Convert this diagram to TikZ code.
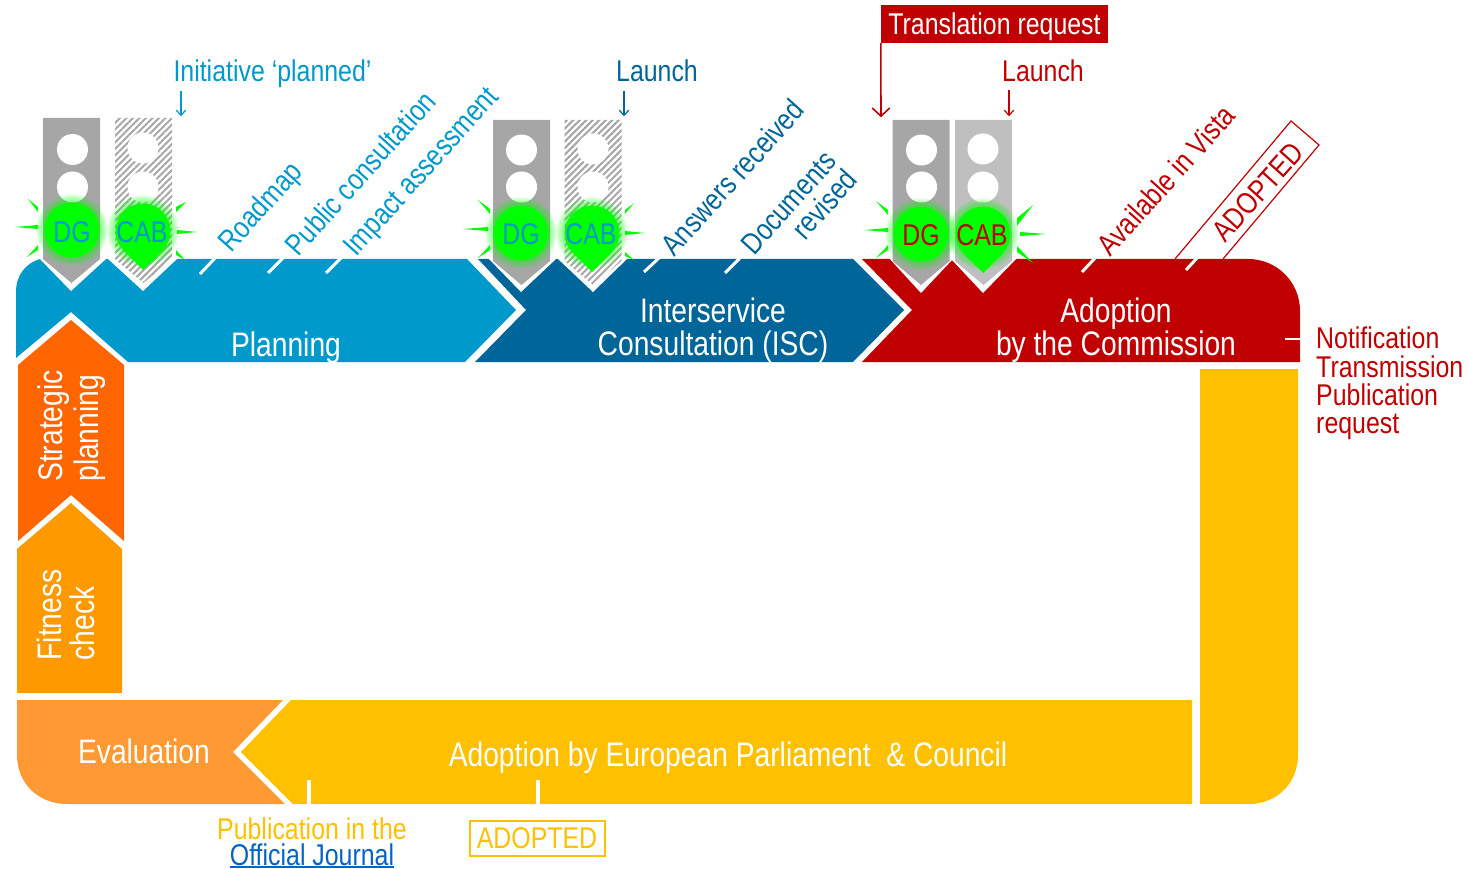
\documentclass[tikz,border=0pt]{standalone}
\usepackage{fontspec}
\setmainfont[FakeStretch=0.83]{Liberation Sans}
\usetikzlibrary{patterns.meta,arrows.meta}
\definecolor{cplan}{HTML}{0099CC}
\definecolor{cisc}{HTML}{006699}
\definecolor{cred}{HTML}{C00000}
\definecolor{cstrat}{HTML}{FF6600}
\definecolor{cfit}{HTML}{FF9900}
\definecolor{ceval}{HTML}{FF9933}
\definecolor{cyel}{HTML}{FFC000}
\definecolor{cgrey}{HTML}{A6A6A6}
\definecolor{cgreyl}{HTML}{BFBFBF}
\definecolor{cgreen}{HTML}{00FF00}
\definecolor{clink}{HTML}{0563C1}
\tikzset{
  x=1pt,y=-1pt,
  phase/.style={inner sep=0pt,text=white,font=\fontsize{34}{33}\selectfont,align=center},
  lab/.style={inner sep=0pt,font=\fontsize{30}{28}\selectfont},
  rlab/.style={lab,rotate=48,anchor=south west},
  thin arrow/.style={-{Straight Barb[length=5pt,width=9pt,round]},line width=1.2pt},
  tick/.style={white,line width=3pt},
  lamp/.style={fill=white},
  spike/.style={fill=cgreen},
  hatchlight/.style={pattern={Lines[angle=45,distance=4.6pt,line width=2pt]},pattern color=cgrey},
}
\newcommand{\lightbody}[3]{%
  \path[#3] (#1-28.5,#2) -- (#1+28.5,#2) -- (#1+28.5,#2+141) -- (#1,#2+165) -- (#1-28.5,#2+141) -- cycle;
}
\newcommand{\lamps}[3]{%
  \fill[lamp] (#1,#2) circle (15.5);
  \fill[lamp] (#1,#3) circle (15.5);
}
\newcommand{\glowat}[2]{%
  \foreach \r in {36,35,34,33,32,31,30,29}{\fill[cgreen,opacity=.07] (#1,#2) circle (\r);}
}
\begin{document}
\begin{tikzpicture}
\useasboundingbox (0,0) rectangle (1468,869);
% ADOPTED rotated box behind the red phase
\draw[cred,line width=1.2pt,fill=white] (1175,259) -- (1291,121) -- (1319,145) -- (1223,259);
% phases
\fill[cred] (862,259) -- (1248,259) .. controls (1277,259) and (1300,282) .. (1300,311) -- (1300,362) -- (862,362) -- (912,310) -- cycle;
\fill[cisc] (478,259) -- (853,259) -- (904,310) -- (853,362) -- (475,362) -- (526,310) -- cycle;
\fill[cplan] (40,259) -- (467,259) -- (516,310) -- (465,362) -- (128,362) -- (71,312) -- (16,358) -- (16,292) .. controls (16,275) and (26,263) .. (40,259) -- cycle;
% strategic and fitness
\fill[cstrat] (18,365) -- (71,320) -- (124,365) -- (124,541) -- (71,495) -- (18,541) -- cycle;
\fill[cfit] (17,549) -- (71,503) -- (122,549) -- (122,693) -- (17,693) -- cycle;
% bottom
\fill[ceval] (17,700) -- (283,700) -- (233,752) -- (285,804) -- (67,804) .. controls (38,804) and (17,783) .. (17,755) -- cycle;
\fill[cyel] (291,700) -- (1192,700) -- (1192,804) -- (293,804) -- (241,752) -- cycle;
\fill[cyel] (1200,369) -- (1298,369) -- (1298,755) .. controls (1298,783) and (1277,804) .. (1249,804) -- (1200,804) -- cycle;
% white Vs under the lights
\fill[white] (39,258) -- (71,291) -- (107,258) -- (143,291) -- (178,258) -- cycle;
\fill[white] (488,258) -- (521,292) -- (557,258) -- (593,292) -- (628,258) -- cycle;
\fill[white] (888,257) -- (921,293) -- (952,260) -- (983,293) -- (1018,257) -- cycle;
% spikes group 1
\fill[spike] (38,225) -- (15,227) -- (38,229) -- cycle;
\fill[spike] (38,207) -- (28,199) -- (38,212) -- cycle;
\fill[spike] (38,245) -- (27,257) -- (38,250) -- cycle;
\fill[spike] (177,230) -- (197,232) -- (177,234) -- cycle;
\fill[spike] (176,207) -- (186,202) -- (176,212) -- cycle;
\fill[spike] (176,250) -- (185,260) -- (176,255) -- cycle;
% spikes group 2
\fill[spike] (488,227) -- (463,229) -- (488,231) -- cycle;
\fill[spike] (490,209) -- (478,200) -- (490,214) -- cycle;
\fill[spike] (490,245) -- (478,258) -- (490,250) -- cycle;
\fill[spike] (625,231) -- (645,233) -- (625,235) -- cycle;
\fill[spike] (625,210) -- (634,203) -- (625,214) -- cycle;
\fill[spike] (625,252) -- (634,260) -- (625,256) -- cycle;
% spikes group 3
\fill[spike] (888,228) -- (864,230) -- (888,232) -- cycle;
\fill[spike] (888,210) -- (876,201) -- (888,215) -- cycle;
\fill[spike] (888,245) -- (876,258) -- (888,250) -- cycle;
\fill[spike] (1020,232) -- (1046,234) -- (1020,236) -- cycle;
\fill[spike] (1017,218) -- (1033,205) -- (1017,226) -- cycle;
\fill[spike] (1017,246) -- (1033,263) -- (1017,252) -- cycle;
% light bodies
\lightbody{71.5}{118}{fill=cgrey}
\lightbody{143.5}{118}{hatchlight}
\lightbody{521.5}{120}{fill=cgrey}
\lightbody{593}{120}{hatchlight}
\lightbody{921}{120}{fill=cgrey}
\lightbody{983.5}{120}{fill=cgreyl}
\lamps{72.5}{149.5}{187}
\lamps{143}{148}{187}
\lamps{521.5}{150}{187}
\lamps{593}{149}{187}
\lamps{921.5}{150}{187}
\lamps{983}{149}{187}
% glows and green lights
\glowat{72}{230}\glowat{143}{231}\glowat{521}{233}\glowat{592}{233}\glowat{921}{234}\glowat{983}{234}
\fill[cgreen] (72,230) circle (27.5);
\fill[cgreen] (143,231) circle (27.5);
\fill[cgreen] (123.5,250.5) -- (143,270) -- (162.5,250.5) -- cycle;
\fill[cgreen] (521,233) circle (27.5);
\fill[cgreen] (592,233) circle (27.5);
\fill[cgreen] (572.5,252.5) -- (592,272) -- (611.5,252.5) -- cycle;
\fill[cgreen] (921,234) circle (27.5);
\fill[cgreen] (983,234) circle (27.5);
\fill[cgreen] (963.5,253.5) -- (983,273) -- (1002.5,253.5) -- cycle;
\node[lab,text=cplan] (dg1) at (72,232) {DG};
\node[lab,text=cplan] (cab1) at (142,232) {CAB};
\node[lab,text=cplan] (dg2) at (521,234) {DG};
\node[lab,text=cplan] (cab2) at (591,234) {CAB};
\node[lab,text=cred] (dg3) at (921,235) {DG};
\node[lab,text=cred] (cab3) at (982,235) {CAB};
% phase labels
\node[phase] (planning) at (286,348) {Planning};
\node[phase] (isc) at (713,330) {Interservice\\Consultation (ISC)};
\node[phase] (adoption) at (1116,330) {Adoption\\by the Commission};
\node[phase,rotate=90,align=left,font=\fontsize{34}{36}\selectfont] (strategic) at (72,426) {Strategic\\planning};
\node[phase,rotate=90,align=left] (fitness) at (66,615) {Fitness\\check};
\node[phase] (evaluation) at (144,751) {Evaluation};
\node[phase] (ep) at (728,758) {Adoption by European Parliament\ \ \& Council};
% ticks
\draw[tick] (200,274) -- (216,257);
\draw[tick] (268,273) -- (284,257);
\draw[tick] (326,273) -- (342,257);
\draw[tick] (644,272) -- (660,257);
\draw[tick] (725,273) -- (741,257);
\draw[tick] (1082,272) -- (1096,257);
\draw[tick] (1186,270) -- (1198,257);
\draw[white,line width=2.5pt] (1285,339) -- (1300,339);
\draw[tick,line width=4pt] (309,780) -- (309,805);
\draw[tick,line width=4pt] (538,780) -- (538,805);
% top labels and arrows
\node[lab,text=cplan] (init) at (272.5,74) {Initiative ‘planned’};
\coordinate (a1s) at (181,91); \coordinate (a1e) at (181,116);
\draw[thin arrow,cplan] (a1s) -- (a1e);
\node[lab,text=cisc] (launch1) at (657,71) {Launch};
\coordinate (a2s) at (624,91); \coordinate (a2e) at (624,116);
\draw[thin arrow,cisc] (a2s) -- (a2e);
\node[lab,text=cred] (launch2) at (1043,71) {Launch};
\coordinate (a3s) at (1009,90); \coordinate (a3e) at (1009,116);
\draw[thin arrow,cred] (a3s) -- (a3e);
\node[inner sep=0pt,fill=cred,minimum width=227pt,minimum height=38pt] (tr) at (994.5,24) {};
\node[inner sep=0pt,text=white,font=\fontsize{30}{28}\selectfont] (trt) at (994.5,27) {Translation request};
\coordinate (a4e) at (881,117);
\draw[-{Straight Barb[length=8pt,width=17pt,round]},cred,line width=1.6pt] (tr.south west) -- (a4e);
% rotated labels
\node[rlab,text=cplan] (road) at (236,258) {Roadmap};
\node[rlab,text=cplan] (pub) at (299,258) {Public consultation};
\node[rlab,text=cplan] (impact) at (361,262) {Impact assessment};
\node[rlab,text=cisc] (answers) at (675,258) {Answers received};
\node[lab,rotate=48,text=cisc,align=right] (docs) at (799,212) {Documents\\revised};
\node[rlab,text=cred] (vista) at (1111,258) {Available in Vista};
\node[lab,rotate=48,text=cred] (adopt1) at (1258,192) {ADOPTED};
% right text
\node[lab,text=cred,align=left,anchor=north west,font=\fontsize{30}{28.3}\selectfont] (notif) at (1316,327) {Notification\\Transmission\\Publication\\request};
% bottom text
\node[lab,text=cyel] (pubo) at (312,829) {Publication in the};
\node[lab,text=clink] (oj) at (312,855) {Official Journal};
\draw[clink,line width=1.2pt] (230,867) -- (394,867);
\node[lab,text=cyel,draw=cyel,line width=2pt,minimum width=135pt,minimum height=35pt] (adopt2) at (537,838) {ADOPTED};
\end{tikzpicture}
\end{document}
